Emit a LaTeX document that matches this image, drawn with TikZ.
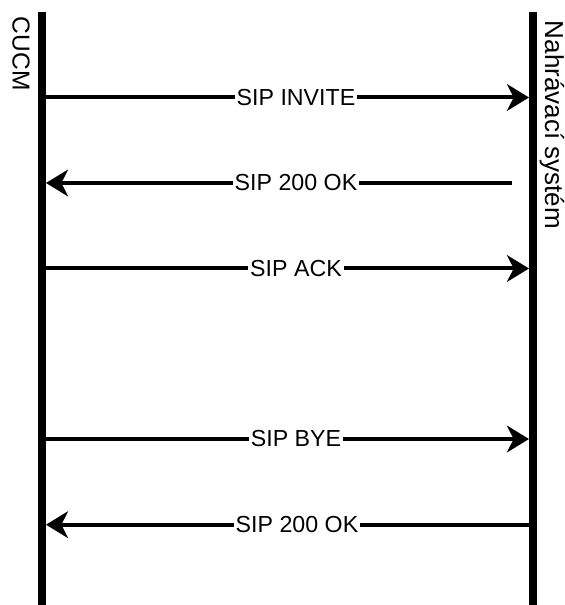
\documentclass[tikz,border=0pt]{standalone}
\usepackage{fontspec}
\setmainfont{Liberation Sans}
\usetikzlibrary{arrows.meta}

\tikzset{
	lifeline/.style={line width=6pt},
	msg/.style={line width=3pt, -{Stealth[length=16.5pt, width=20pt, inset=5pt]}},
	msglabel/.style={fill=white, inner sep=1.5pt, font=\fontsize{17.4}{20}\selectfont},
	party/.style={rotate=-90, anchor=base west, inner sep=0pt}
}

\begin{document}
\begin{tikzpicture}[x=0.75pt, y=-0.75pt]
			%%%%% START %%%%%
			\useasboundingbox (0, 0) rectangle (564, 605);
			
			% lifelines
			\coordinate (cucm top) at (42, 12.5);
			\coordinate (cucm bot) at (42, 605);
			\coordinate (rec top) at (533, 12.5);
			\coordinate (rec bot) at (533, 605);
			\draw[lifeline] (cucm top) -- (cucm bot);
			\draw[lifeline] (rec top) -- (rec bot);
			
			\node[party, font=\fontsize{18.4}{22}\selectfont] (cucm) at (12.7, 16.7) {CUCM};
			\node[party, font=\fontsize{19.5}{22}\selectfont] (rec) at (545, 20.7) {Nahrávací systém};
			
			% message ends on the lifelines
			\coordinate (c1) at (46, 97.5);   \coordinate (r1) at (529, 97.5);
			\coordinate (c2) at (46, 183);    \coordinate (r2) at (512, 183);
			\coordinate (c3) at (46, 268.5);  \coordinate (r3) at (529, 268.5);
			\coordinate (c4) at (46, 439);    \coordinate (r4) at (529, 439);
			\coordinate (c5) at (46, 524.7);  \coordinate (r5) at (529, 524.7);
			
			\draw[msg] (c1) -- (r1);
			\node[msglabel] (invite) at (296, 97.5) {SIP INVITE};
			
			\draw[msg] (r2) -- (c2);
			\node[msglabel] (ok1) at (296, 183) {SIP 200 OK};
			
			\draw[msg] (c3) -- (r3);
			\node[msglabel] (ack) at (296, 268.5) {SIP ACK};
			
			\draw[msg] (c4) -- (r4);
			\node[msglabel] (bye) at (296, 439) {SIP BYE};
			
			\draw[msg] (r5) -- (c5);
			\node[msglabel] (ok2) at (297, 524.7) {SIP 200 OK};
			
			%%%%% END %%%%%
\end{tikzpicture}
\end{document}
